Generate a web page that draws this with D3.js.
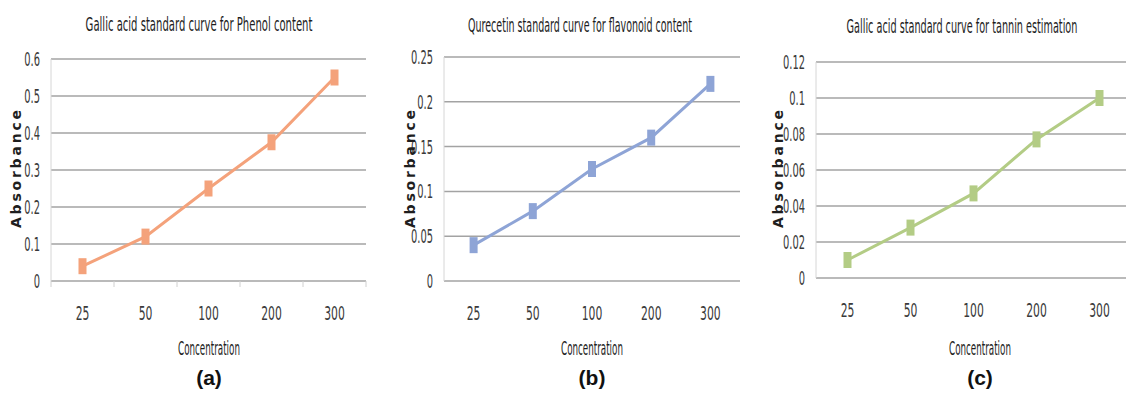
<!DOCTYPE html>
<html>
<head>
<meta charset="utf-8">
<script src="https://cdn.jsdelivr.net/npm/d3@7"></script>
<style>
  body { margin: 0; background: #fff; }
  svg { display: block; }
</style>
</head>
<body>
<div id="chart"></div>
<script>
const width = 1126;
const height = 395;

// data
const concentrations = ["25", "50", "100", "200", "300"];
const phenolAbs = [0.04, 0.12, 0.25, 0.375, 0.55];
const flavonoidAbs = [0.04, 0.078, 0.125, 0.16, 0.22];
const tanninAbs = [0.01, 0.028, 0.047, 0.077, 0.1];

const phenolTicks = [0, 0.1, 0.2, 0.3, 0.4, 0.5, 0.6];
const flavonoidTicks = [0, 0.05, 0.1, 0.15, 0.2, 0.25];
const tanninTicks = [0, 0.02, 0.04, 0.06, 0.08, 0.1, 0.12];

const titles = [
  "Gallic acid standard curve for Phenol content",
  "Qurecetin standard curve for flavonoid content",
  "Gallic acid standard curve for tannin estimation"
];
const letters = ["(a)", "(b)", "(c)"];

const narrow = "'Liberation Sans Narrow', 'DejaVu Sans Condensed', sans-serif";

const svg = d3.select("#chart")
  .append("svg")
  .attr("width", width)
  .attr("height", height)
  .attr("viewBox", [0, 0, width, height]);

// squeeze a centred text horizontally so it spans w pixels
function fitText(sel, cx, cy, w) {
  const len = sel.node().getComputedTextLength();
  sel.attr("x", 0).attr("y", 0)
    .attr("transform", `translate(${cx},${cy}) scale(${w / len},1)`);
}

const panels = [
  { values: phenolAbs, ticks: phenolTicks, title: titles[0], letter: letters[0], color: "#f4a27b",
    left: 51, right: 366, top: 59, bottom: 281, titleX: 199, titleY: 31, titleW: 227,
    absX: 16, centerX: 209, tickMarks: true },
  { values: flavonoidAbs, ticks: flavonoidTicks, title: titles[1], letter: letters[1], color: "#8ea4d6",
    left: 444, right: 740, top: 57, bottom: 281, titleX: 580, titleY: 32, titleW: 224,
    absX: 410, centerX: 592, tickMarks: false },
  { values: tanninAbs, ticks: tanninTicks, title: titles[2], letter: letters[2], color: "#b3cc85",
    left: 816, right: 1131, top: 62, bottom: 278, titleX: 962, titleY: 33, titleW: 231,
    absX: 778, centerX: 980, tickMarks: false }
];

panels.forEach(p => {
  const g = svg.append("g");

  const x = d3.scaleBand()
    .domain(concentrations)
    .range([p.left, p.right]);
  const y = d3.scaleLinear()
    .domain([0, d3.max(p.ticks)])
    .range([p.bottom, p.top]);

  // horizontal gridlines
  g.append("g")
    .selectAll("line")
    .data(p.ticks)
    .join("line")
      .attr("x1", p.left)
      .attr("x2", p.right)
      .attr("y1", d => y(d))
      .attr("y2", d => y(d))
      .attr("stroke", "#a3a3a3")
      .attr("stroke-width", 1.5);

  // y axis line
  g.append("line")
    .attr("x1", p.left).attr("x2", p.left)
    .attr("y1", p.top).attr("y2", p.bottom)
    .attr("stroke", "#d6d6d6");

  // y axis labels
  const yAxis = g.append("g")
    .attr("transform", `translate(${p.left},0)`)
    .call(d3.axisLeft(y).tickValues(p.ticks).tickSize(0).tickFormat(d => String(+d.toFixed(2))));
  yAxis.select(".domain").remove();
  yAxis.selectAll("text")
    .attr("font-family", narrow)
    .attr("font-size", 20)
    .attr("fill", "#3a3a3a")
    .attr("x", -11 / 0.55)
    .attr("transform", "scale(0.55,1)");

  // x axis labels, centred in each band
  const xAxis = g.append("g")
    .attr("transform", `translate(0,${p.bottom})`)
    .call(d3.axisBottom(x).tickSize(0).tickPadding(25));
  xAxis.select(".domain").remove();
  xAxis.selectAll("text")
    .attr("font-family", narrow)
    .attr("font-size", 20)
    .attr("fill", "#3a3a3a")
    .attr("transform", "scale(0.6,1)")
    .attr("x", 0);

  if (p.tickMarks) {
    const bounds = concentrations.map(c => x(c)).concat([p.right]);
    g.append("g")
      .selectAll("line")
      .data(bounds)
      .join("line")
        .attr("x1", d => d).attr("x2", d => d)
        .attr("y1", p.bottom).attr("y2", p.bottom + 6)
        .attr("stroke", "#d0d0d0");
  }

  // series line
  const pts = concentrations.map((c, i) => [x(c) + x.bandwidth() / 2, y(p.values[i])]);
  g.append("path")
    .attr("d", d3.line()(pts))
    .attr("fill", "none")
    .attr("stroke", p.color)
    .attr("stroke-width", 3);

  g.append("g")
    .selectAll("rect")
    .data(pts)
    .join("rect")
      .attr("x", d => d[0] - 4)
      .attr("y", d => d[1] - 8)
      .attr("width", 8)
      .attr("height", 16)
      .attr("fill", p.color);

  // title
  const title = g.append("text")
    .attr("text-anchor", "middle")
    .attr("font-family", narrow)
    .attr("font-size", 20)
    .attr("fill", "#1e1e1e")
    .text(p.title);
  fitText(title, p.titleX, p.titleY, p.titleW);

  // axis titles
  const xTitle = g.append("text")
    .attr("text-anchor", "middle")
    .attr("font-family", narrow)
    .attr("font-size", 19)
    .attr("fill", "#1e1e1e")
    .text("Concentration");
  fitText(xTitle, p.centerX, 355, 62);

  g.append("text")
    .attr("transform", `translate(${p.absX + 5},169) rotate(-90)`)
    .attr("text-anchor", "middle")
    .attr("font-family", "'DejaVu Sans', sans-serif")
    .attr("font-weight", "bold")
    .attr("font-size", 14)
    .attr("fill", "#1e1e1e")
    .attr("textLength", 118)
    .attr("lengthAdjust", "spacing")
    .text("Absorbance");

  // panel letter
  g.append("text")
    .attr("x", p.centerX)
    .attr("y", 385)
    .attr("text-anchor", "middle")
    .attr("font-family", "'Liberation Sans', Arial, sans-serif")
    .attr("font-weight", "bold")
    .attr("font-size", 21)
    .attr("fill", "#111")
    .text(p.letter);
});
</script>
</body>
</html>
